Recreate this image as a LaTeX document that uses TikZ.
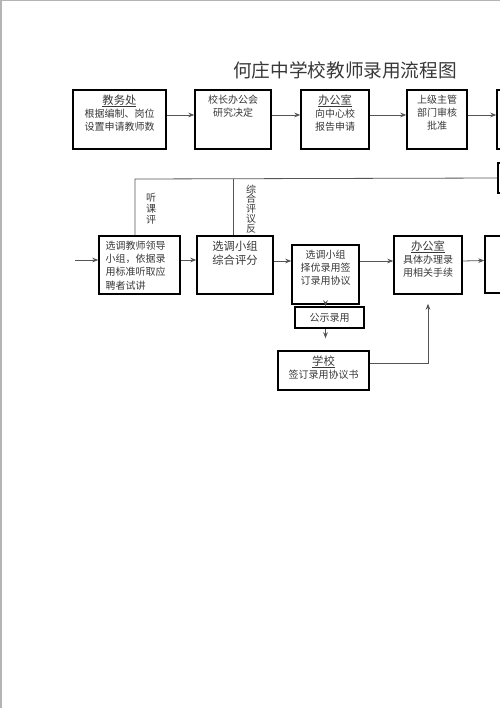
\documentclass[tikz,border=0pt]{standalone}
\usepackage{fontspec}
\setmainfont{Noto Sans CJK SC}
\usepackage{xcolor}
\usepackage{tikz}
\usetikzlibrary{positioning,arrows.meta}

\definecolor{txtgray}{HTML}{383838}
\definecolor{linegray}{HTML}{555555}
\definecolor{pagegray}{HTML}{B4B4B4}
\newlength\pxu \setlength\pxu{0.75pt}
\newcommand{\inbox}[3]{\parbox[c][#2\pxu][t]{#1\pxu}{\centering\vspace*{3.5pt}#3}}
\newcommand{\hd}[1]{\leavevmode{\fontsize{8.5}{11}\selectfont\vtop{\hbox{#1}\kern0.6pt\hrule height 0.6pt}}}

\begin{document}
\begin{tikzpicture}[x=0.75pt, y=-0.75pt, ->, >={Stealth[length=4.5pt,width=3.5pt]}, box/.style={draw, line width=1.1pt, inner sep=0pt, text=txtgray, font=\fontsize{7.5}{10}\selectfont}, every edge/.append style={linegray, line width=0.6pt}, vlab/.style={align=center, inner sep=0pt, text=txtgray}]

\useasboundingbox (0,0) rectangle (500,708);
\clip (0,0) rectangle (500,708);
\draw[-, pagegray, line width=0.8pt] (1,708) -- (1,0.5) -- (500,0.5);

\node[text=txtgray, font=\fontsize{14}{17}\selectfont] (title) at (345,70) {何庄中学校教师录用流程图};

% first row
\node[box] (jwc) at (119.5,119.5) {\inbox{93}{59}{\hd{教务处}\\根据编制、岗位\\设置申请教师数}};
\node[box] (xzbgh) at (233,119.5) {\inbox{76}{59}{校长办公会\\研究决定}};
\node[box] (bgs) at (335,119.5) {\inbox{68}{59}{\hd{办公室}\\向中心校\\报告申请}};
\node[box] (sjzg) at (437,119.5) {\inbox{60}{59}{上级主管\\部门审核\\批准}};
\node[box, minimum width=66\pxu, minimum height=59\pxu] (nxt) at (530,119.5) {};
\node[box, minimum width=64\pxu, minimum height=30\pxu] (fk) at (530,178) {};

% second row
\node[box] (xdld) at (139.5,265) {\inbox{81}{58}{\raggedright\leftskip=5pt 选调教师领导\\小组，依据录\\用标准听取应\\聘者试讲}};
\node[box] (pf) at (235,265) {\inbox{76}{58}{\fontsize{8.5}{11}\selectfont 选调小组\\综合评分}};
\node[box] (zy) at (325.5,274.5) {\inbox{67}{59}{选调小组\\择优录用签\\订录用协议}};
\node[box] (bgs2) at (428,265) {\inbox{68}{58}{\hd{办公室}\\具体办理录\\用相关手续}};
\node[box, minimum width=70\pxu, minimum height=57\pxu] (nxt2) at (520,264.5) {};
\node[box, minimum width=69\pxu, minimum height=21\pxu] (gs) at (329.5,317.5) {公示录用};
\node[box] (xx) at (323.5,370.5) {\inbox{91}{39}{\hd{学校}\\签订录用协议书}};

\node[vlab, font=\fontsize{7.5}{8.3}\selectfont] (tkp) at (151,209) {听\\课\\评};
\node[vlab, font=\fontsize{7.5}{7.4}\selectfont] (zhpy) at (251,209) {综\\合\\评\\议\\反};

\coordinate (in) at (75,260);
\coordinate (ta) at (135,179);
\coordinate (tb) at (233,179);

\path 
    ([yshift=3.4pt]jwc.east) edge ([yshift=3.4pt]xzbgh.west)
    ([yshift=3.4pt]xzbgh.east) edge ([yshift=3.4pt]bgs.west)
    ([yshift=3.4pt]bgs.east) edge ([yshift=3.4pt]sjzg.west)
    ([yshift=3.4pt]sjzg.east) edge ([yshift=3.4pt]nxt.west)
    (in) edge (in -| xdld.west)
    ([yshift=3.75pt]xdld.east) edge ([yshift=3.75pt]pf.west)
    ([yshift=3pt]pf.east) edge ([yshift=3pt]pf.east -| zy.west)
    ([yshift=3pt]bgs2.west -| zy.east) edge ([yshift=3pt]bgs2.west)
    ([yshift=3pt]bgs2.east) edge ([yshift=3pt]nxt2.west)
    (zy.south) edge (zy.south |- gs.north)
    (zy.south |- gs.south) edge[shorten >=9pt] (zy.south |- xx.north);

\draw[-, linegray, line width=0.6pt] (fk.west) -- (ta) -- (ta |- xdld.north);
\draw[-, linegray, line width=0.6pt] (tb) -- (tb |- pf.north);
\draw[linegray, line width=0.6pt, shorten >=6.75pt] ([yshift=5.6pt]xx.east) -| (bgs2.south);
\end{tikzpicture}
\end{document}
